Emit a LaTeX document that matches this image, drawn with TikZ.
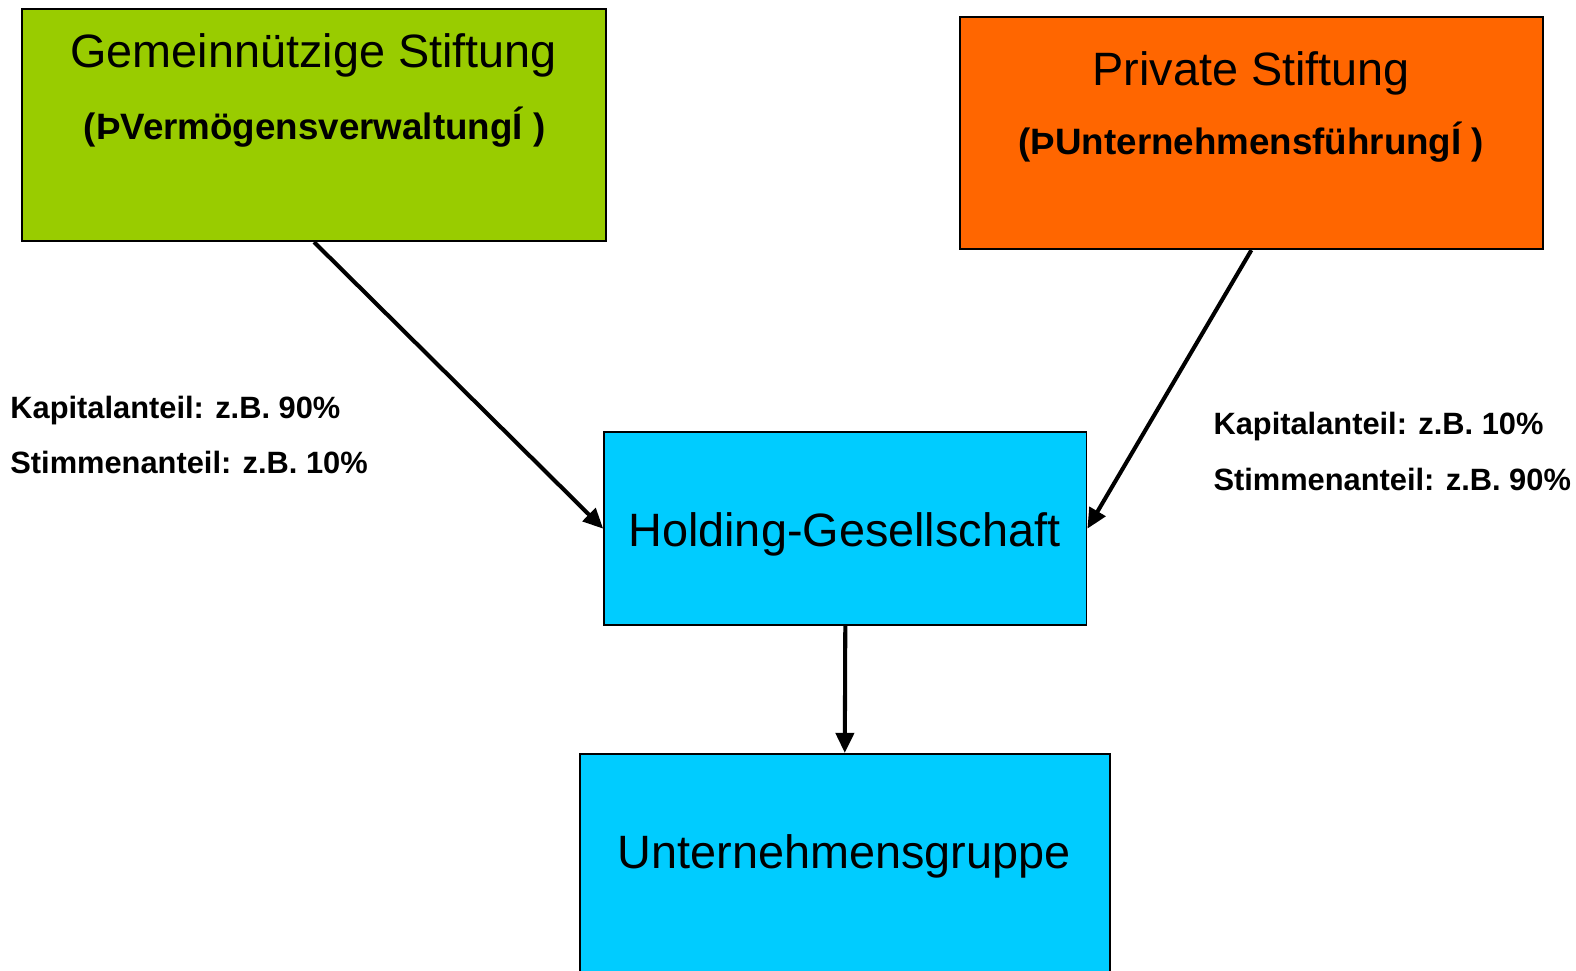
\documentclass[tikz,border=0pt]{standalone}
\usepackage{fontspec}
\setmainfont{Liberation Sans}
\usetikzlibrary{arrows.meta}
\definecolor{gruen}{HTML}{99CC00}
\definecolor{orange}{HTML}{FF6600}
\definecolor{cyan}{HTML}{00CCFF}
\tikzset{
  kasten/.style={draw, line width=1pt, inner sep=0pt},
  titel/.style={anchor=base, font=\fontsize{26.5}{30}\selectfont},
  untertitel/.style={anchor=base, font=\fontsize{20.8}{24}\selectfont\bfseries},
  anteil/.style={anchor=base west, inner sep=0pt, font=\fontsize{17.45}{20}\selectfont\bfseries},
  pfeil/.style={line width=2.3pt, -{Triangle[length=0.4cm, width=0.36cm]}}
}

\begin{document}
\begin{tikzpicture}
\clip (0, 0) rectangle (31.36, -19.32);
\fill[white] (0, 0) rectangle (31.36, -19.32);
\node[kasten, fill = gruen, minimum width = 11.62cm, minimum height = 4.62cm] (gemein) at (6.25, -2.49) {};
\node[titel] (gemeintitel) at (6.24, -1.34) {Gemeinnützige Stiftung};
\node[untertitel] (gemeinzweck) at (6.26, -2.78) {(ÞVermögensverwaltungÍ )};
\node[kasten, fill = orange, minimum width = 11.6cm, minimum height = 4.62cm] (privat) at (24.9, -2.65) {};
\node[titel] (privattitel) at (24.9, -1.70) {Private Stiftung};
\node[untertitel] (privatzweck) at (24.9, -3.08) {(ÞUnternehmensführungÍ )};
\node[kasten, fill = cyan, minimum width = 9.6cm, minimum height = 3.84cm] (holding) at (16.82, -10.52) {};
\node[titel] (holdingtitel) at (16.8, -10.88) {Holding-Gesellschaft};
\node[kasten, fill = cyan, minimum width = 10.54cm, minimum height = 5cm] (gruppe) at (16.81, -17.5) {};
\node[titel] (gruppetitel) at (16.8, -17.28) {Unternehmensgruppe};
\node[anteil] (kapitallinks) at (0.2, -8.32) {Kapitalanteil: z.B. 90\%};
\node[anteil] (stimmenlinks) at (0.2, -9.42) {Stimmenanteil: z.B. 10\%};
\node[anteil] (kapitalrechts) at (24.14, -8.64) {Kapitalanteil: z.B. 10\%};
\node[anteil] (stimmenrechts) at (24.14, -9.76) {Stimmenanteil: z.B. 90\%};
\draw[pfeil] (gemein.south) -- (holding.west);
\draw[pfeil] (privat.south) -- (holding.east);
\draw[pfeil] (holding.south) -- (gruppe.north);
\end{tikzpicture}
\end{document}
